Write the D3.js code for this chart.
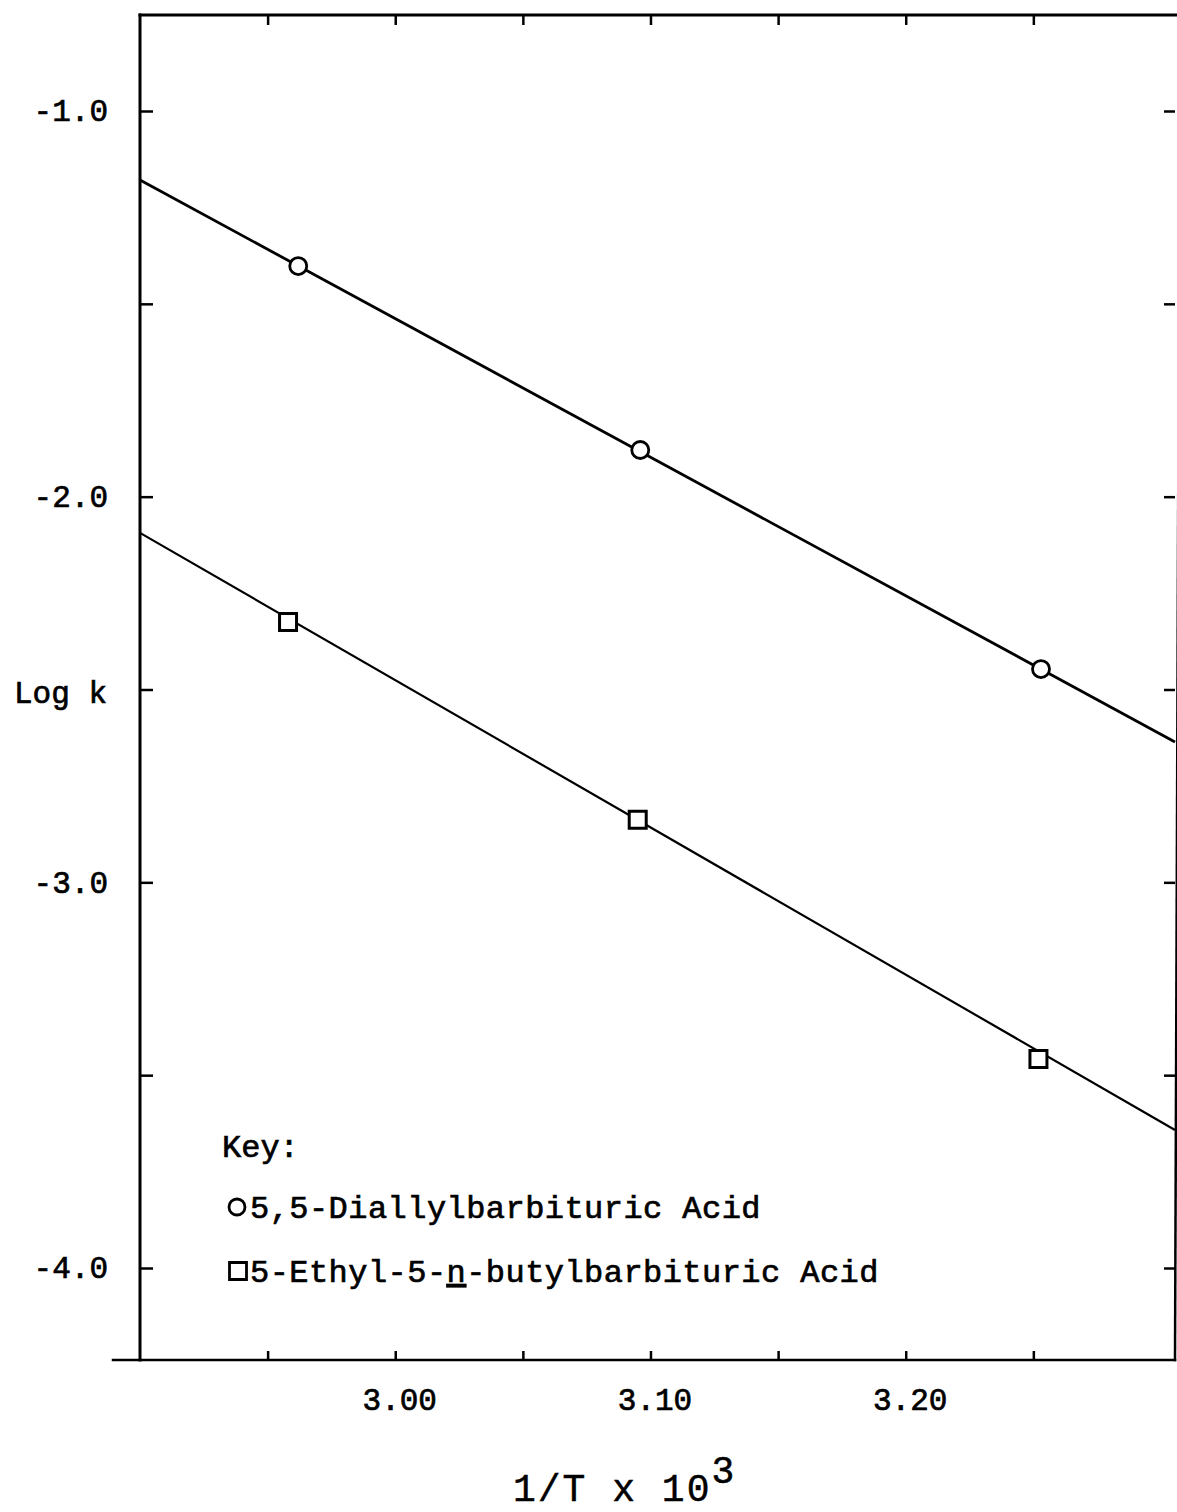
<!DOCTYPE html>
<html>
<head>
<meta charset="utf-8">
<script src="https://cdn.jsdelivr.net/npm/d3@7"></script>
<style>
  html, body { margin: 0; padding: 0; background: #fff; }
  svg { display: block; }
  text { font-family: "Liberation Mono", "DejaVu Sans Mono", monospace; fill: #000; }
</style>
</head>
<body>
<svg id="chart" width="1177" height="1512"></svg>
<script>
// ---- data ----
const xTickValues = [2.95, 3.00, 3.05, 3.10, 3.15, 3.20, 3.25];
const xTickLabels = ["", "3.00", "", "3.10", "", "3.20", ""];
const yTickValues = [-1.0, -1.5, -2.0, -2.5, -3.0, -3.5, -4.0];
const yTickLabels = ["-1.0", "", "-2.0", "", "-3.0", "", "-4.0"];

const diallylX = [2.962, 3.096, 3.253];
const diallylY = [-1.402, -1.879, -2.447];
const ethylButylX = [2.958, 3.095, 3.252];
const ethylButylY = [-2.325, -2.838, -3.458];

const fitX = [2.900, 3.3055];
const diallylFitY = [-1.179, -2.636];
const ethylButylFitY = [-2.094, -3.642];

const legendLabels = ["5,5-Diallylbarbituric Acid", "5-Ethyl-5-", "n", "-butylbarbituric Acid"];

// ---- layout ----
const L = 140, R = 1175, T = 15, B = 1360;
const svg = d3.select("#chart");
const x = d3.scaleLinear().domain([2.900, 3.3055]).range([L, R]);
const y = d3.scaleLinear().domain([-1.0, -4.0]).range([111, 1268]);

const ink = "#000";
const textStroke = 0.7;

// frame
const frame = svg.append("g").attr("stroke", ink).attr("fill", "none").attr("stroke-linecap", "square");
frame.append("line").attr("x1", L).attr("y1", T).attr("x2", 1177).attr("y2", T).attr("stroke-width", 3);
frame.append("line").attr("x1", L).attr("y1", T).attr("x2", L).attr("y2", B).attr("stroke-width", 3);
frame.append("line").attr("x1", 113).attr("y1", B).attr("x2", R).attr("y2", B).attr("stroke-width", 2.5);
frame.append("line").attr("x1", 1180).attr("y1", T).attr("x2", R).attr("y2", B).attr("stroke-width", 2.5);

function styleAxis(g, fontSize) {
  g.select(".domain").remove();
  g.selectAll(".tick line").attr("stroke", ink).attr("stroke-width", 2.5);
  g.selectAll(".tick text")
    .attr("font-family", "'Liberation Mono', monospace")
    .attr("font-size", fontSize)
    .attr("fill", ink)
    .attr("stroke", ink).attr("stroke-width", textStroke);
}

// bottom axis
const gx = svg.append("g").attr("transform", `translate(0,${B})`)
  .call(d3.axisBottom(x).tickValues(xTickValues).tickSizeInner(-9).tickSizeOuter(0)
    .tickPadding(28).tickFormat((d, i) => xTickLabels[i]));
styleAxis(gx, 31);
gx.selectAll(".tick text").attr("dx", 4);

// top axis
const gt = svg.append("g").attr("transform", `translate(0,${T})`)
  .call(d3.axisTop(x).tickValues(xTickValues).tickSizeInner(-10).tickSizeOuter(0).tickFormat(""));
styleAxis(gt, 31);

// left axis
const gy = svg.append("g").attr("transform", `translate(${L},0)`)
  .call(d3.axisLeft(y).tickValues(yTickValues).tickSizeInner(-13).tickSizeOuter(0)
    .tickPadding(32).tickFormat((d, i) => yTickLabels[i]));
styleAxis(gy, 31);

// right axis
const gr = svg.append("g").attr("transform", `translate(${R},0)`)
  .call(d3.axisRight(y).tickValues(yTickValues).tickSizeInner(-11).tickSizeOuter(0).tickFormat(""));
styleAxis(gr, 31);

// axis titles
svg.append("text").attr("x", 14).attr("y", 703)
  .attr("font-size", 31).attr("stroke", ink).attr("stroke-width", textStroke)
  .text("Log k");

const xt = svg.append("text").attr("x", 513).attr("y", 1501)
  .attr("font-size", 38).attr("letter-spacing", 2).attr("stroke", ink).attr("stroke-width", 0.5);
xt.append("tspan").text("1/T x 10");
xt.append("tspan").attr("dy", -18).text("3");

// fitted lines
const line = d3.line().x(d => x(d[0])).y(d => y(d[1]));
svg.append("path").datum(d3.zip(fitX, diallylFitY)).attr("d", line)
  .attr("fill", "none").attr("stroke", ink).attr("stroke-width", 2.8);
svg.append("path").datum(d3.zip(fitX, ethylButylFitY)).attr("d", line)
  .attr("fill", "none").attr("stroke", ink).attr("stroke-width", 2.2);

// points
svg.append("g").selectAll("circle").data(d3.zip(diallylX, diallylY)).join("circle")
  .attr("cx", d => x(d[0])).attr("cy", d => y(d[1])).attr("r", 8.5)
  .attr("fill", "#fff").attr("stroke", ink).attr("stroke-width", 2.8);

const sq = d3.symbol().type(d3.symbolSquare).size(17 * 17);
svg.append("g").selectAll("path").data(d3.zip(ethylButylX, ethylButylY)).join("path")
  .attr("d", sq).attr("transform", d => `translate(${x(d[0])},${y(d[1])})`)
  .attr("fill", "#fff").attr("stroke", ink).attr("stroke-width", 3);

// legend
const lg = svg.append("g").attr("font-size", 32);
lg.append("text").attr("x", 222).attr("y", 1157).attr("stroke", ink).attr("stroke-width", textStroke).text("Key:");
lg.append("circle").attr("cx", 237).attr("cy", 1207).attr("r", 8)
  .attr("fill", "#fff").attr("stroke", ink).attr("stroke-width", 2.8);
lg.append("text").attr("x", 250).attr("y", 1218).attr("stroke", ink).attr("stroke-width", textStroke)
  .attr("letter-spacing", 0.45).text(legendLabels[0]);
lg.append("path").attr("d", d3.symbol().type(d3.symbolSquare).size(17 * 17))
  .attr("transform", "translate(238,1271)")
  .attr("fill", "#fff").attr("stroke", ink).attr("stroke-width", 2.8);
const t2 = lg.append("text").attr("x", 250).attr("y", 1282).attr("stroke", ink).attr("stroke-width", textStroke)
  .attr("letter-spacing", 0.45);
t2.append("tspan").text(legendLabels[1]);
t2.append("tspan").style("text-decoration", "underline").text(legendLabels[2]);
t2.append("tspan").text(legendLabels[3]);
</script>
</body>
</html>
